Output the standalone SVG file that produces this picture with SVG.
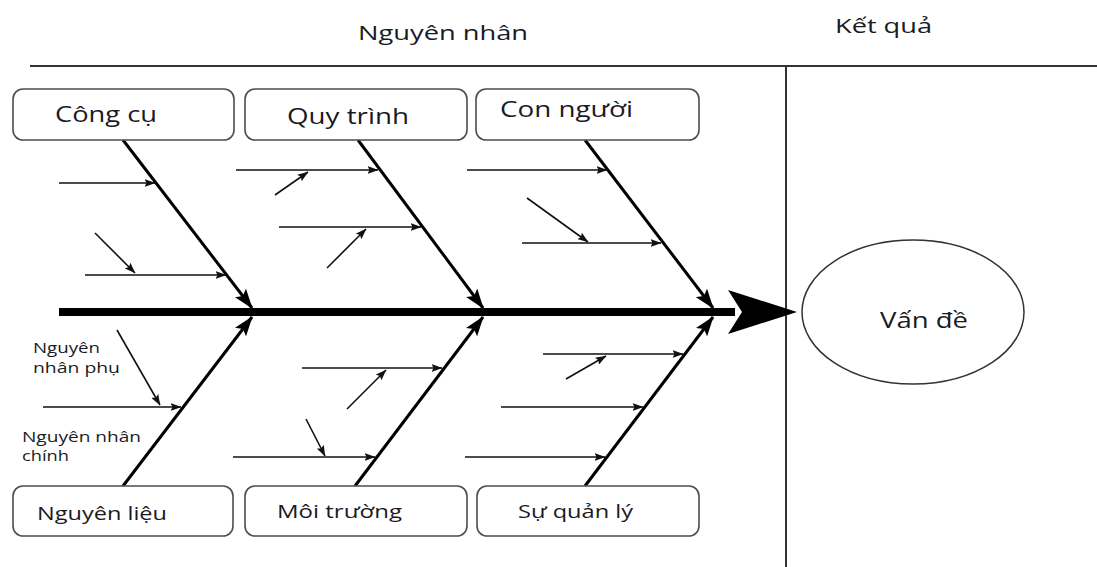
<svg xmlns="http://www.w3.org/2000/svg" width="1097" height="567" viewBox="0 0 1097 567">
<style>
  .box { fill: #ffffff; stroke: #4d4d4d; stroke-width: 1.6; }
  .lbl { font-family: "Open Sans", "Noto Sans", sans-serif; fill: #1a1a24; }
  .bone { fill: none; stroke: #000; stroke-width: 3; marker-end: url(#big); }
  .sub { fill: none; stroke: #111; stroke-width: 1.6; marker-end: url(#small); }
  .frame { stroke: #333; stroke-width: 2; fill: none; }
</style>
<defs>
  <marker id="big" markerUnits="userSpaceOnUse" viewBox="0 0 20 14" refX="19" refY="7" markerWidth="20" markerHeight="14" orient="auto">
    <path d="M0,0 L20,7 L0,14 L4,7 z" fill="#000"/>
  </marker>
  <marker id="small" markerUnits="userSpaceOnUse" viewBox="0 0 11 8" refX="10.5" refY="4" markerWidth="11" markerHeight="8" orient="auto">
    <path d="M0,0 L11,4 L0,8 L2,4 z" fill="#111"/>
  </marker>
</defs>
<rect x="0" y="0" width="1097" height="567" fill="#ffffff"/>

<g id="frame">
  <line class="frame" x1="30" y1="66" x2="1097" y2="66"/>
  <line class="frame" x1="786" y1="66" x2="786" y2="567"/>
  <text class="lbl" x="358" y="40" font-size="20" textLength="170" lengthAdjust="spacingAndGlyphs">Nguyên nhân</text>
  <text class="lbl" x="835" y="33" font-size="20" textLength="97" lengthAdjust="spacingAndGlyphs">Kết quả</text>
</g>

<g id="connectors">
  <line x1="59" y1="312" x2="735" y2="312" stroke="#000" stroke-width="8"/>
  <polygon points="728,290 797,312 728,334 742,312" fill="#000"/>
  <path class="bone" d="M123,140 L252,308"/>
  <path class="bone" d="M358,140 L483,308"/>
  <path class="bone" d="M585,140 L713,308"/>
  <path class="bone" d="M123,486 L252,317"/>
  <path class="bone" d="M355,486 L483,317"/>
  <path class="bone" d="M585,486 L713,317"/>
  <path class="sub" d="M59,183 L155,183"/>
  <path class="sub" d="M85,275 L226,275"/>
  <path class="sub" d="M95,233 L135,273"/>
  <path class="sub" d="M236,170 L378,170"/>
  <path class="sub" d="M275,195 L308,172"/>
  <path class="sub" d="M279,227 L421,227"/>
  <path class="sub" d="M327,268 L366,229"/>
  <path class="sub" d="M467,170 L607,170"/>
  <path class="sub" d="M522,243 L661,243"/>
  <path class="sub" d="M527,198 L588,242"/>
  <path class="sub" d="M43,407 L181,407"/>
  <path class="sub" d="M117,330 L160,405"/>
  <path class="sub" d="M302,368 L442,368"/>
  <path class="sub" d="M347,409 L386,370"/>
  <path class="sub" d="M233,457 L375,457"/>
  <path class="sub" d="M306,419 L325,456"/>
  <path class="sub" d="M543,354 L683,354"/>
  <path class="sub" d="M566,379 L606,356"/>
  <path class="sub" d="M501,407 L643,407"/>
  <path class="sub" d="M465,457 L605,457"/>
</g>

<g id="node-congcu">
  <rect class="box" x="13" y="89" width="221" height="51" rx="10"/>
  <text class="lbl" x="55" y="122" font-size="21" textLength="102" lengthAdjust="spacingAndGlyphs">Công cụ</text>
</g>
<g id="node-quytrinh">
  <rect class="box" x="245" y="89" width="222" height="51" rx="10"/>
  <text class="lbl" x="287" y="124" font-size="21" textLength="122" lengthAdjust="spacingAndGlyphs">Quy trình</text>
</g>
<g id="node-connguoi">
  <rect class="box" x="476" y="89" width="223" height="51" rx="10"/>
  <text class="lbl" x="500" y="117" font-size="21" textLength="133" lengthAdjust="spacingAndGlyphs">Con người</text>
</g>
<g id="node-nguyenlieu">
  <rect class="box" x="13" y="486" width="220" height="50" rx="10"/>
  <text class="lbl" x="37" y="520" font-size="19" textLength="130" lengthAdjust="spacingAndGlyphs">Nguyên liệu</text>
</g>
<g id="node-moitruong">
  <rect class="box" x="245" y="486" width="222" height="50" rx="10"/>
  <text class="lbl" x="277" y="518" font-size="19" textLength="125" lengthAdjust="spacingAndGlyphs">Môi trường</text>
</g>
<g id="node-suquanly">
  <rect class="box" x="477" y="486" width="222" height="50" rx="10"/>
  <text class="lbl" x="518" y="518" font-size="19" textLength="115" lengthAdjust="spacingAndGlyphs">Sự quản lý</text>
</g>
<g id="node-vande">
  <ellipse cx="913" cy="312" rx="111" ry="72" fill="#fff" stroke="#333" stroke-width="1.5"/>
  <text class="lbl" x="880" y="328" font-size="21" textLength="88" lengthAdjust="spacingAndGlyphs">Vấn đề</text>
</g>
<g id="legend">
  <text class="lbl" x="33" y="353" font-size="14" textLength="67" lengthAdjust="spacingAndGlyphs">Nguyên</text>
  <text class="lbl" x="33" y="373" font-size="14" textLength="87" lengthAdjust="spacingAndGlyphs">nhân phụ</text>
  <text class="lbl" x="22" y="442" font-size="14" textLength="119" lengthAdjust="spacingAndGlyphs">Nguyên nhân</text>
  <text class="lbl" x="22" y="461" font-size="14" textLength="47" lengthAdjust="spacingAndGlyphs">chính</text>
</g>
</svg>
